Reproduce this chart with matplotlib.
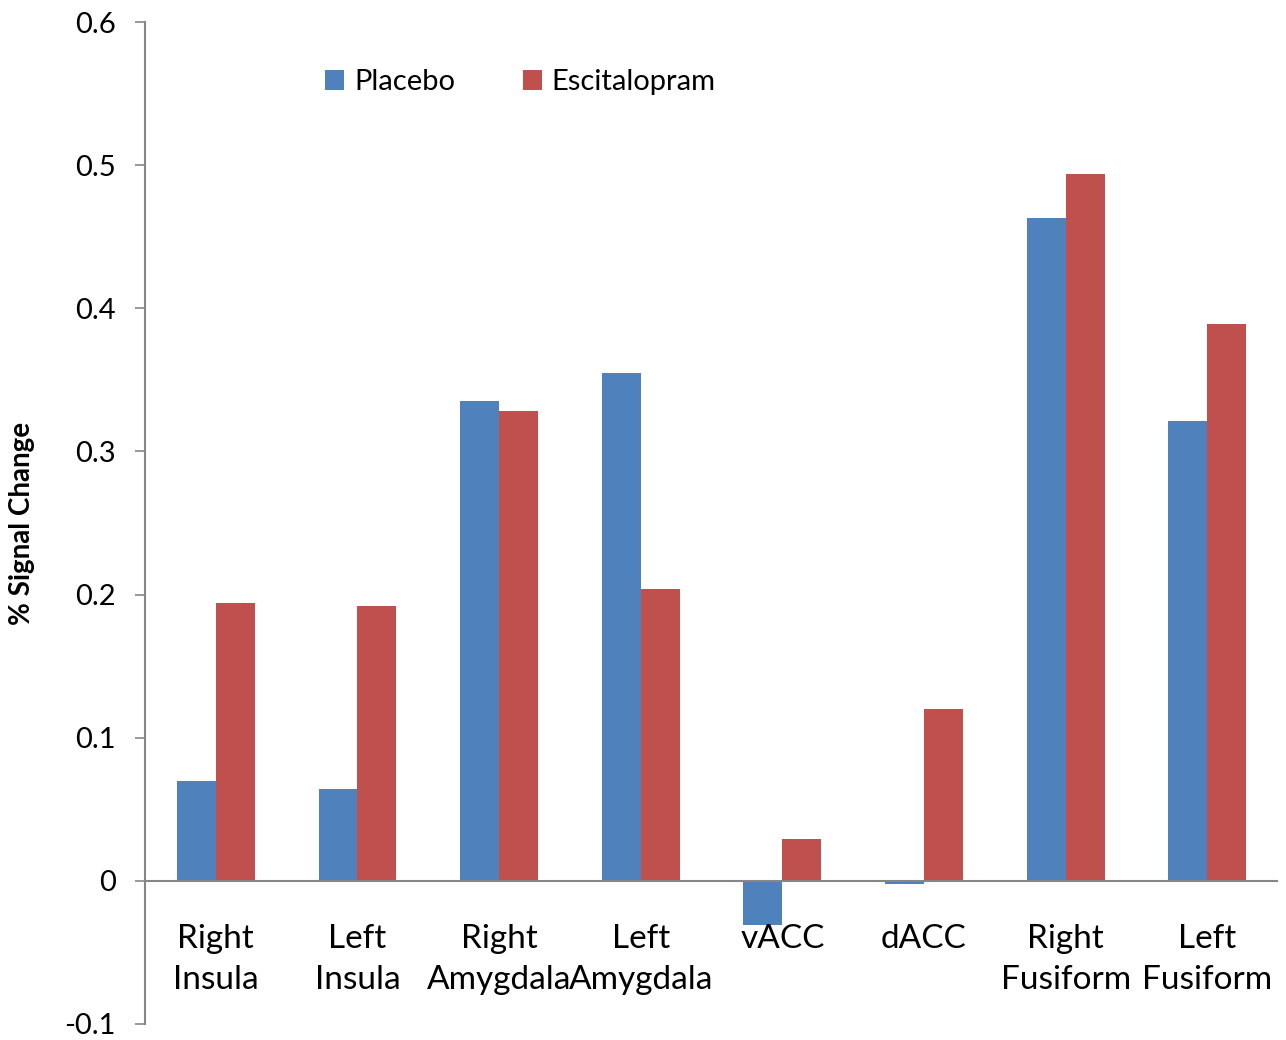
import numpy as np
import matplotlib
matplotlib.use('Agg')
import matplotlib.pyplot as plt
import matplotlib.transforms as mtransforms

regions = ['Right\nInsula', 'Left\nInsula', 'Right\nAmygdala', 'Left\nAmygdala',
           'vACC', 'dACC', 'Right\nFusiform', 'Left\nFusiform']
placebo = [0.070, 0.064, 0.335, 0.355, -0.031, -0.002, 0.463, 0.321]
escitalopram = [0.194, 0.192, 0.328, 0.204, 0.029, 0.120, 0.494, 0.389]

plt.rcParams['font.family'] = ['Lato', 'DejaVu Sans']

fig = plt.figure(figsize=(12.86, 10.4), dpi=100)
ax = fig.add_axes([0.1128, 0.0154, 0.881, 0.9634])

x = np.arange(len(regions))
w = 0.275
ax.bar(x - w / 2, placebo, w, color='#4F81BD', label='Placebo')
ax.bar(x + w / 2, escitalopram, w, color='#C0504D', label='Escitalopram')

ax.set_xlim(-0.5, len(regions) - 0.5)
ax.set_ylim(-0.1, 0.6)
ax.set_yticks(np.arange(-0.1, 0.61, 0.1))
ax.set_yticklabels(['-0.1', '0', '0.1', '0.2', '0.3', '0.4', '0.5', '0.6'])
ax.tick_params(axis='y', labelsize=21, length=7, width=1.2, color='#868686', pad=14)
ax.set_xticks([])

for side in ['top', 'right', 'bottom']:
    ax.spines[side].set_visible(False)
ax.spines['left'].set_color('#868686')
ax.spines['left'].set_linewidth(1.5)
ax.axhline(0, color='#868686', lw=1.5, zorder=3)

# category labels sit just under the zero line
trans = mtransforms.blended_transform_factory(ax.transData, ax.transAxes)
for xi, name in zip(x, regions):
    ax.text(xi, 0.1, name, transform=trans, ha='center', va='top',
            fontsize=24, linespacing=1.45)

ax.set_ylabel('% Signal Change', fontsize=20, fontweight='bold')
ax.yaxis.set_label_coords(-0.097, 0.5)

ax.legend(loc='upper left', bbox_to_anchor=(0.136, 0.979), ncol=2, frameon=False,
          fontsize=21, handlelength=0.65, handleheight=0.7, handletextpad=0.35,
          columnspacing=2.3)

fig.savefig('out.png', dpi=100)
